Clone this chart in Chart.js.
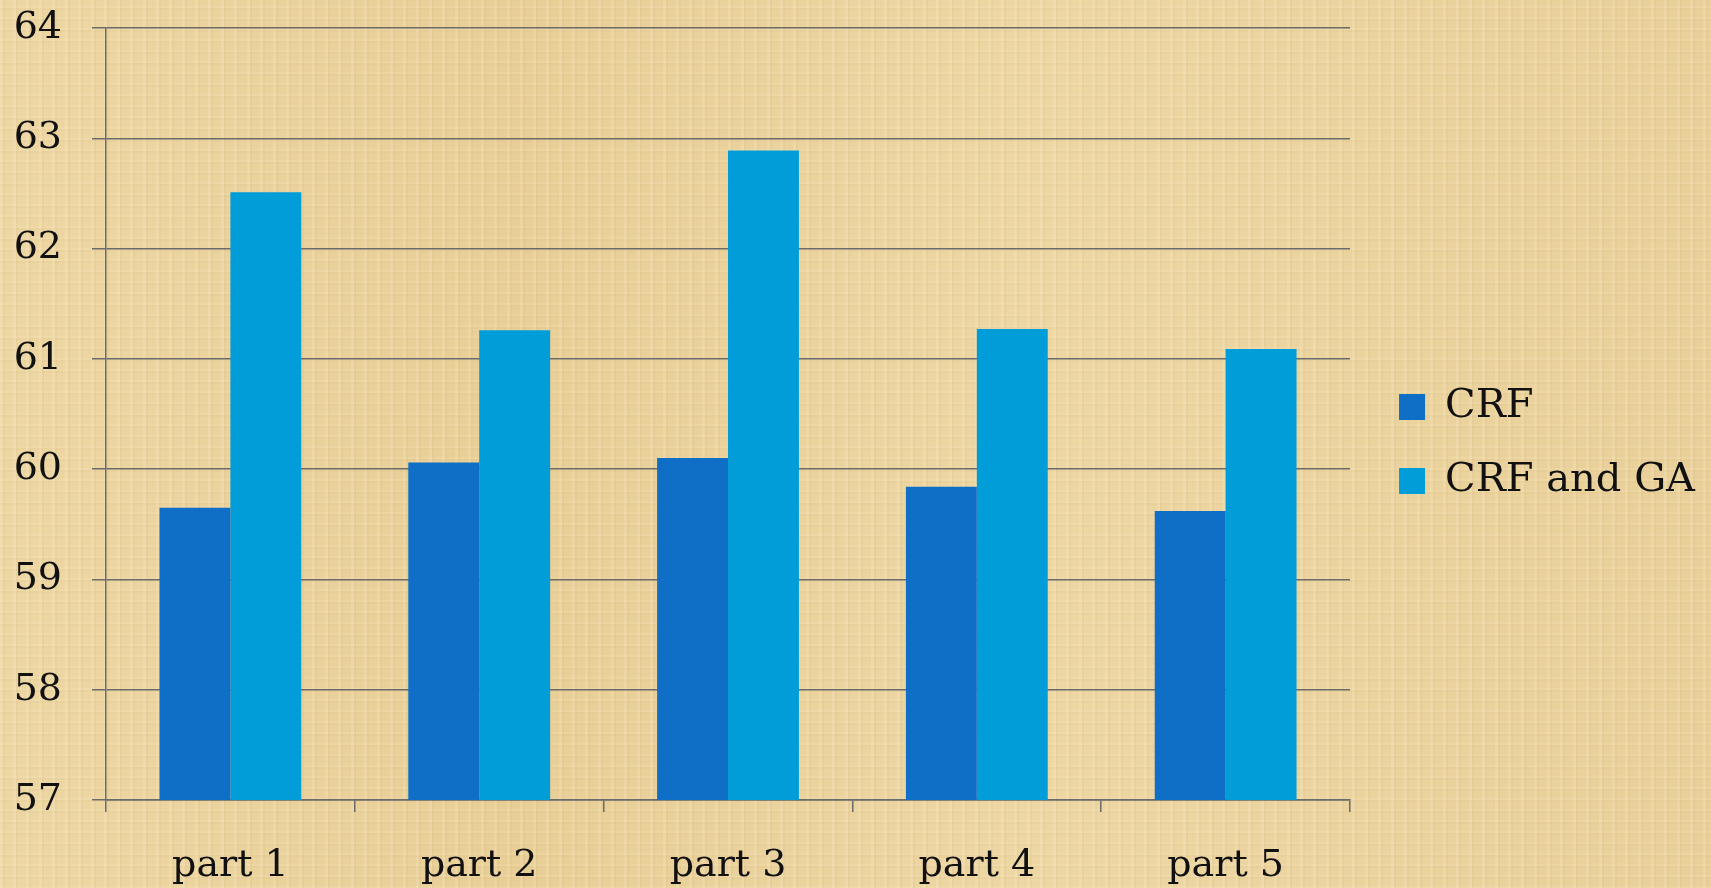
<!DOCTYPE html>
<html>
<head>
<meta charset="utf-8">
<title>CRF vs CRF and GA</title>
<script src="https://cdn.jsdelivr.net/npm/chart.js@4.4.0/dist/chart.umd.min.js"></script>
<style>
    html, body {
        margin: 0;
        padding: 0;
        width: 1711px;
        height: 888px;
        overflow: hidden;
    }
    body {
        background-color: #ebd39f;
        background-image:
            repeating-linear-gradient(90deg, rgba(255,245,215,0.16) 0px, rgba(255,245,215,0.16) 3px, rgba(190,150,80,0.08) 3px, rgba(190,150,80,0.08) 5px, transparent 5px, transparent 13px),
            repeating-linear-gradient(0deg, rgba(255,245,215,0.12) 0px, rgba(255,245,215,0.12) 2px, transparent 2px, transparent 9px, rgba(190,150,80,0.06) 9px, rgba(190,150,80,0.06) 11px),
            linear-gradient(90deg, rgba(240,220,170,0.4), rgba(225,195,130,0.3) 30%, rgba(240,220,170,0.4) 60%, rgba(228,200,140,0.3));
    }
    #wrap {
        position: relative;
        width: 1711px;
        height: 888px;
    }
</style>
</head>
<body>
<div id="wrap">
    <canvas id="myChart"></canvas>
</div>
<script>
// Data
const categories = ['part 1', 'part 2', 'part 3', 'part 4', 'part 5'];
const crfValues = [59.65, 60.06, 60.10, 59.84, 59.62];
const crfGaValues = [62.51, 61.26, 62.89, 61.27, 61.09];
const seriesNames = ['CRF', 'CRF and GA'];
const yMin = 57;
const yMax = 64;
const yStep = 1;

const serif = "'DejaVu Serif', 'Liberation Serif', serif";
const gridColor = '#6b6b6b';

// legend sits a bit further from the plot than its padding allows
const legendNudge = {
    id: 'legendNudge',
    afterLayout(chart) {
        const lg = chart.legend;
        if (lg) {
            lg.left += 15;
            lg.right += 15;
        }
    }
};

const ctx = document.getElementById('myChart').getContext('2d');

const myChart = new Chart(ctx, {
    type: 'bar',
    data: {
        labels: categories,
        datasets: [{
            label: seriesNames[0],
            data: crfValues,
            backgroundColor: '#0f6fc6',
            borderWidth: 0
        }, {
            label: seriesNames[1],
            data: crfGaValues,
            backgroundColor: '#009dd9',
            borderWidth: 0
        }]
    },
    plugins: [legendNudge],
    options: {
        responsive: true,
        maintainAspectRatio: false,
        animation: false,
        layout: {
            padding: { top: 0, right: 21, bottom: 0, left: 0 }
        },
        datasets: {
            bar: {
                categoryPercentage: 0.57,
                barPercentage: 1.0
            }
        },
        plugins: {
            tooltip: { enabled: false },
            legend: {
                position: 'right',
                align: 'center',
                labels: {
                    color: '#111',
                    font: { family: serif, size: 40 },
                    boxWidth: 26,
                    boxHeight: 26,
                    padding: 34
                }
            }
        },
        scales: {
            x: {
                afterFit: (scale) => { scale.height = 88; },
                grid: {
                    offset: true,
                    drawOnChartArea: false,
                    drawTicks: true,
                    tickLength: 12,
                    tickColor: gridColor,
                    lineWidth: 1.5
                },
                border: { display: true, color: gridColor, width: 1.5 },
                ticks: {
                    color: '#111',
                    font: { family: serif, size: 38 },
                    padding: 31,
                    maxRotation: 0
                }
            },
            y: {
                min: yMin,
                max: yMax,
                afterFit: (scale) => {
                    scale.width = 106;
                    // tick padding only pushes labels sideways here
                    scale.paddingTop = 28;
                    scale.paddingBottom = 0;
                },
                grid: {
                    color: gridColor,
                    lineWidth: 1.5,
                    drawTicks: true,
                    tickLength: 14,
                    tickColor: gridColor
                },
                border: { display: true, color: gridColor, width: 1.5 },
                ticks: {
                    stepSize: yStep,
                    color: '#111',
                    font: { family: serif, size: 38 },
                    padding: 30
                }
            }
        }
    }
});
</script>
</body>
</html>
